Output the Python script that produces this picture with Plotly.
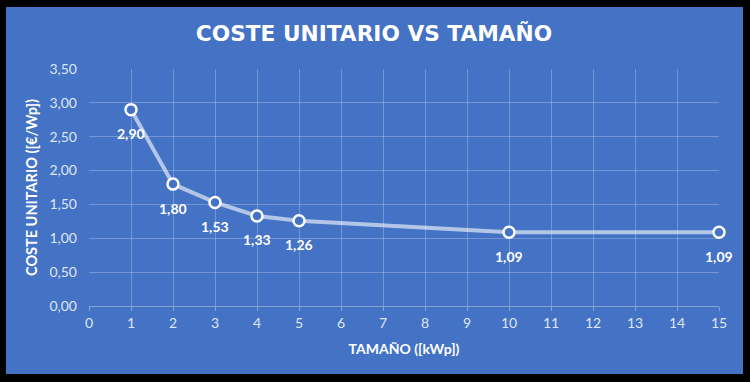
import plotly.graph_objects as go

tamano = [1, 2, 3, 4, 5, 10, 15]
coste = [2.90, 1.80, 1.53, 1.33, 1.26, 1.09, 1.09]
etiquetas = ["2,90", "1,80", "1,53", "1,33", "1,26", "1,09", "1,09"]
y_ticks = [0, 0.5, 1, 1.5, 2, 2.5, 3, 3.5]
y_ticklabels = ["0,00", "0,50", "1,00", "1,50", "2,00", "2,50", "3,00", "3,50"]
x_ticks = list(range(0, 16))

BLUE = "#4472C4"
FONT = "Lato"

fig = go.Figure()
fig.add_trace(go.Scatter(
    x=tamano, y=coste, mode="lines+markers",
    line=dict(color="rgba(255,255,255,0.6)", width=4),
    marker=dict(size=11, color=BLUE, line=dict(color="white", width=2.5)),
    cliponaxis=False, hoverinfo="skip",
))

for xv, yv, t in zip(tamano, coste, etiquetas):
    fig.add_annotation(x=xv, y=yv, text=t, showarrow=False, yshift=-24,
                       font=dict(family=FONT, size=14, color="white", weight="bold"))

L, R, T, B = 89, 31, 69, 76
W, H = 750, 382
pw, ph = W - L - R, H - T - B

def px_x(p):
    return (p - L) / pw

def px_y(p):
    return (H - B - p) / ph

fig.add_shape(type="rect", xref="paper", yref="paper", layer="below",
              x0=px_x(6), x1=px_x(743), y0=px_y(374), y1=px_y(7),
              fillcolor=BLUE, line=dict(width=0))

fig.update_layout(
    width=W, height=H,
    margin=dict(l=L, r=R, t=T, b=B),
    paper_bgcolor="black", plot_bgcolor="rgba(0,0,0,0)",
    showlegend=False,
    title=dict(text="COSTE UNITARIO VS TAMAÑO", x=374 / W, xref="container", xanchor="center",
               y=1 - 33 / H, yanchor="middle",
               font=dict(family="DejaVu Sans", size=21.7, color="white", weight="bold")),
    xaxis=dict(range=[0, 15], tickvals=x_ticks, showgrid=True,
               gridcolor="rgba(255,255,255,0.25)", gridwidth=1,
               zeroline=False, showline=True, linecolor="rgba(255,255,255,0.35)",
               ticks="outside", ticklen=4, tickcolor="rgba(255,255,255,0.35)",
               tickfont=dict(family=FONT, size=14, color="#dfe6f4"),
               title=dict(text="TAMAÑO ([kWp])", standoff=14,
                          font=dict(family=FONT, size=14, color="white", weight="bold"))),
    yaxis=dict(range=[0, 3.5], tickvals=y_ticks, ticktext=y_ticklabels,
               showgrid=True, gridcolor="rgba(255,255,255,0.25)", gridwidth=1,
               zeroline=False, showline=False, ticks="", ticklabelstandoff=11,
               tickfont=dict(family=FONT, size=14, color="#dfe6f4"),
               title=dict(text="COSTE UNITARIO ([€/Wp])", standoff=8,
                          font=dict(family=FONT, size=14.5, color="white", weight="bold"))),
)

fig.write_html("out.html", config={"displayModeBar": False},
               post_script="document.body.style.margin='0';")
